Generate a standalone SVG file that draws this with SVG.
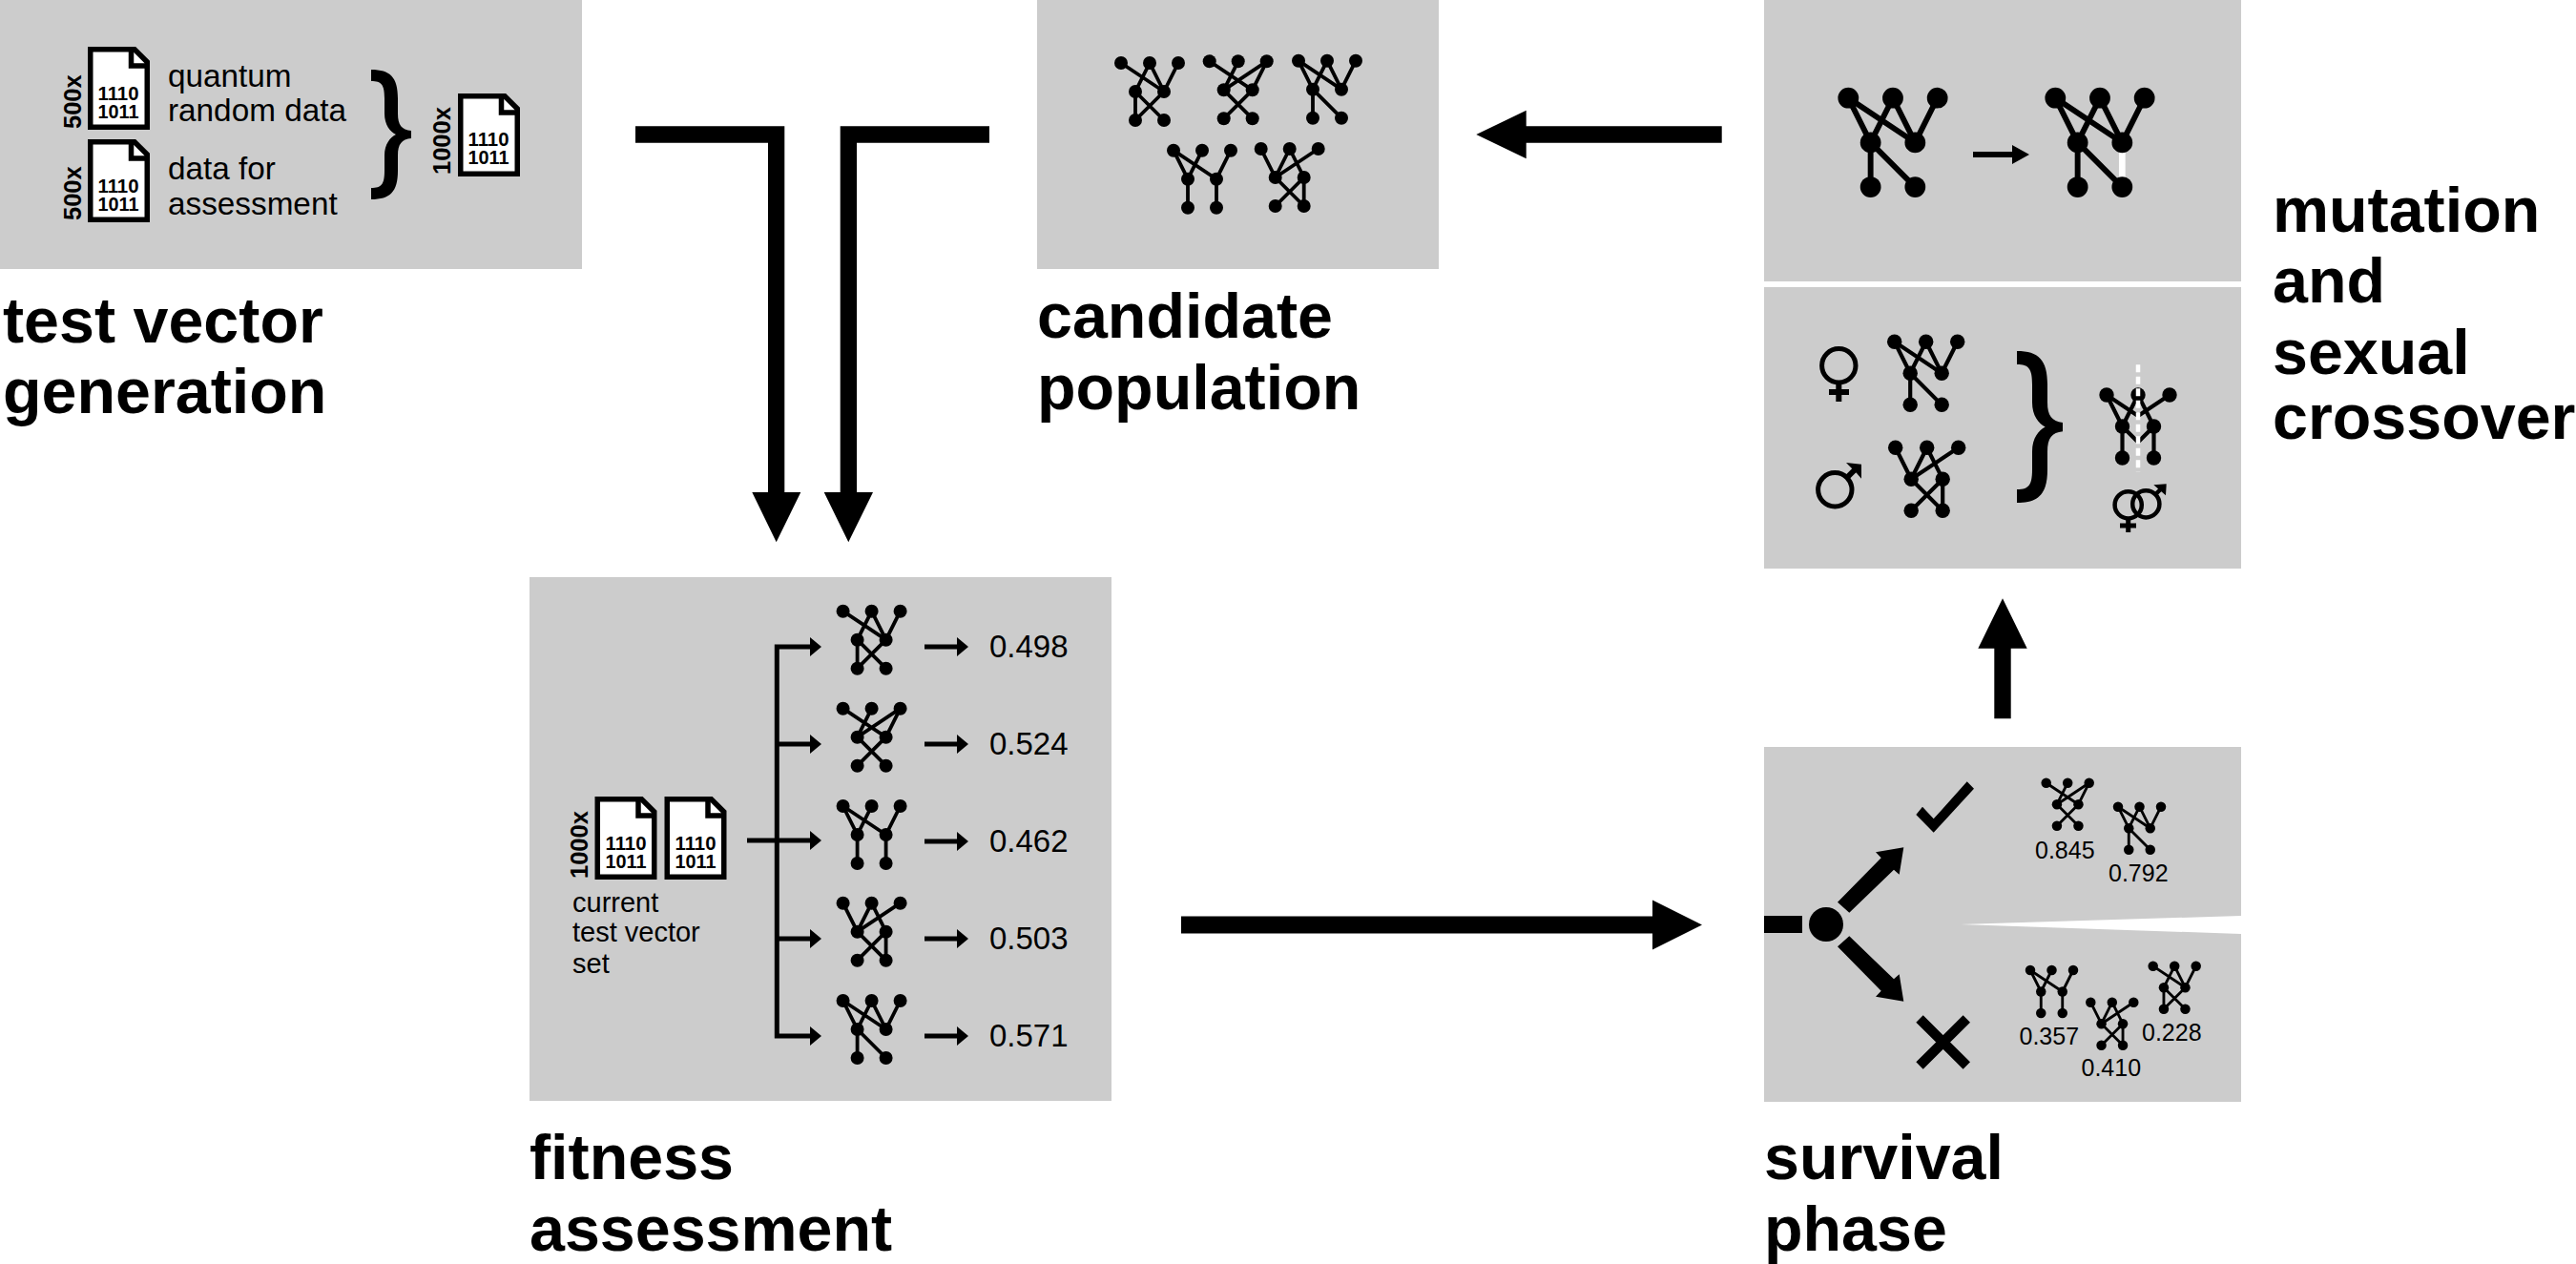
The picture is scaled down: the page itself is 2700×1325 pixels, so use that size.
<svg xmlns="http://www.w3.org/2000/svg" xmlns:xlink="http://www.w3.org/1999/xlink" width="2700" height="1325" viewBox="0 0 2700 1325">
<style>
text{font-family:"Liberation Sans",Arial,sans-serif;fill:#000}
.panel{fill:#ccc}
.title{font-size:66.4px;font-weight:bold}
.body{font-size:33.3px}
.cap{font-size:29px}
.fit{font-size:33px}
.sfit{font-size:25px}
.bits{font-size:20px;font-weight:bold;text-anchor:middle}
.count{font-size:25.5px;font-weight:bold}
.e{stroke:#000;stroke-width:3.8;fill:none}
.n{fill:#000}
.k{fill:#000;stroke:none}
.sym{fill:none;stroke:#000;stroke-width:5}
.ln{fill:none;stroke:#000;stroke-width:5}
</style>
<defs>
<g id="nodes" class="n"><circle cx="0" cy="0" r="7"/><circle cx="30" cy="0" r="7"/><circle cx="60" cy="0" r="7"/><circle cx="15" cy="30" r="7"/><circle cx="45" cy="30" r="7"/><circle cx="15" cy="60" r="7"/><circle cx="45" cy="60" r="7"/></g>
<g id="netA"><path class="e" d="M0,0L45,30M30,0L15,30M30,0L45,30M60,0L45,30M15,30L15,60M15,30L45,60M45,30L15,60"/><use href="#nodes"/></g>
<g id="netB"><path class="e" d="M0,0L45,30M30,0L15,30M60,0L15,30M60,0L45,30M15,30L45,60M45,30L15,60"/><use href="#nodes"/></g>
<g id="netC"><path class="e" d="M0,0L15,30M0,0L45,30M30,0L15,30M30,0L45,30M60,0L45,30M15,30L15,60M15,30L45,60"/><use href="#nodes"/></g>
<g id="netD"><path class="e" d="M0,0L15,30M0,0L45,30M30,0L15,30M60,0L45,30M15,30L15,60M45,30L45,60"/><use href="#nodes"/></g>
<g id="netE"><path class="e" d="M0,0L15,30M30,0L15,30M30,0L45,30M60,0L15,30M15,30L45,60M45,30L15,60M45,30L45,60"/><use href="#nodes"/></g>
<g id="netX"><path class="e" d="M0,0L15,30M0,0L30,20M30,0L15,30M30,0L45,30M60,0L30,20M15,30L15,60M15,30L30,45M45,30L45,60M45,30L30,45"/><use href="#nodes"/></g>
<g id="doc"><path d="M2.75,2.75H49L62.25,16V84.25H2.75Z" fill="#fff" stroke="#000" stroke-width="5.5"/><path d="M45.5,2V20H63" fill="none" stroke="#000" stroke-width="5.5"/></g>
<path id="brace" class="k" d="M0,0C20,0 28,8 28,30L28,46C28,58 32,63 42,64L42,72C32,73 28,78 28,90L28,106C28,128 20,136 0,136L0,124C11,124 14,120 14,106L14,90C14,78 20,71 26,68C20,65 14,58 14,46L14,30C14,16 11,12 0,12Z"/>
</defs>

<g id="test-vector-generation">
<rect class="panel" x="0" y="0" width="610" height="282"/>
<use href="#doc" x="92" y="49"/>
<text class="bits" x="124" y="105" textLength="43" lengthAdjust="spacingAndGlyphs">1110</text><text class="bits" x="124" y="124" textLength="43" lengthAdjust="spacingAndGlyphs">1011</text>
<use href="#doc" x="92" y="146"/>
<text class="bits" x="124" y="202" textLength="43" lengthAdjust="spacingAndGlyphs">1110</text><text class="bits" x="124" y="221" textLength="43" lengthAdjust="spacingAndGlyphs">1011</text>
<use href="#doc" x="480" y="98"/>
<text class="bits" x="512" y="153" textLength="43" lengthAdjust="spacingAndGlyphs">1110</text><text class="bits" x="512" y="172" textLength="43" lengthAdjust="spacingAndGlyphs">1011</text>
<text class="count" transform="translate(85,135) rotate(-90)">500x</text>
<text class="count" transform="translate(85,231) rotate(-90)">500x</text>
<text class="count" transform="translate(472,183) rotate(-90)">1000x</text>
<text class="body" x="176" y="91">quantum</text>
<text class="body" x="176" y="127">random data</text>
<text class="body" x="176" y="188">data for</text>
<text class="body" x="176" y="225">assessment</text>
<use href="#brace" transform="translate(389,73)"/>
<text class="title" x="3" y="359">test vector</text>
<text class="title" x="3" y="433">generation</text>
</g>

<g id="candidate-population">
<rect class="panel" x="1087" y="0" width="421" height="282"/>
<use href="#netA" transform="translate(1175,66)"/>
<use href="#netB" transform="translate(1267.7,64.3)"/>
<use href="#netC" transform="translate(1361,63.7)"/>
<use href="#netD" transform="translate(1230,157.7)"/>
<use href="#netE" transform="translate(1321.7,156)"/>
<text class="title" x="1087" y="354">candidate</text>
<text class="title" x="1087" y="429">population</text>
</g>

<g id="mutation">
<rect class="panel" x="1849" y="0" width="500" height="295"/>
<use href="#netC" transform="translate(1937.3,102.7) scale(1.556)"/>
<path d="M2224.3,158V187" stroke="#fff" stroke-width="6.7" fill="none"/>
<use href="#netC" transform="translate(2154.3,102.7) scale(1.556)"/>
<polygon class="k" points="2068,159 2109,159 2109,152 2127,162 2109,172 2109,165 2068,165"/>
</g>

<g id="sexual-crossover">
<rect class="panel" x="1849" y="301" width="500" height="295"/>
<use href="#netC" transform="translate(1985.7,358.3) scale(1.1)"/>
<use href="#netE" transform="translate(1986.7,469.3) scale(1.1)"/>
<circle class="sym" cx="1927.3" cy="383.3" r="17.7"/>
<path d="M1927.3,403V421M1917,411H1938" fill="none" stroke="#000" stroke-width="6"/>
<circle class="sym" cx="1923.3" cy="513.3" r="17.7"/>
<path d="M1936.5,500L1946,490.5" fill="none" stroke="#000" stroke-width="6"/>
<polygon class="k" points="1935,485 1951,486.7 1951,501.7 1946,496 1941,491"/>
<use href="#brace" transform="translate(2114,368) scale(1.143,1.17)"/>
<use href="#netX" transform="translate(2208,414) scale(1.1)"/>
<path d="M2241,382.3V495" fill="none" stroke="#fff" stroke-width="4.5" stroke-dasharray="8 4.5"/>
<circle cx="2230.7" cy="529.3" r="14.1" fill="none" stroke="#000" stroke-width="4.5"/>
<path d="M2230.7,545V558M2222,551H2239" fill="none" stroke="#000" stroke-width="5"/>
<circle cx="2249.3" cy="528.3" r="14.1" fill="none" stroke="#000" stroke-width="4.5"/>
<path d="M2259.5,518L2266,511.5" fill="none" stroke="#000" stroke-width="4.5"/>
<polygon class="k" points="2257.3,508.3 2270.7,507.3 2270,519.3"/>
<text class="title" x="2382" y="243">mutation</text>
<text class="title" x="2382" y="317">and</text>
<text class="title" x="2382" y="392">sexual</text>
<text class="title" x="2382" y="460">crossover</text>
</g>

<g id="fitness-assessment">
<rect class="panel" x="555" y="605" width="610" height="549"/>
<use href="#doc" x="623.5" y="835"/>
<text class="bits" x="656" y="891" textLength="43" lengthAdjust="spacingAndGlyphs">1110</text><text class="bits" x="656" y="910" textLength="43" lengthAdjust="spacingAndGlyphs">1011</text>
<use href="#doc" x="696.5" y="835"/>
<text class="bits" x="729" y="891" textLength="43" lengthAdjust="spacingAndGlyphs">1110</text><text class="bits" x="729" y="910" textLength="43" lengthAdjust="spacingAndGlyphs">1011</text>
<text class="count" transform="translate(616,921) rotate(-90)">1000x</text>
<text class="cap" x="600" y="956">current</text>
<text class="cap" x="600" y="987">test vector</text>
<text class="cap" x="600" y="1020">set</text>
<path class="ln" d="M783,881H850M852,678H814.3V1086H852M814.3,780H852M814.3,984H852"/>
<g class="k">
<polygon points="849,668 861,678 849,688"/><polygon points="849,770 861,780 849,790"/><polygon points="849,871 861,881 849,891"/><polygon points="849,974 861,984 849,994"/><polygon points="849,1076 861,1086 849,1096"/>
</g>
<use href="#netA" transform="translate(883.6,640.7)"/>
<use href="#netB" transform="translate(883.6,742.7)"/>
<use href="#netD" transform="translate(883.6,845)"/>
<use href="#netE" transform="translate(883.6,946.7)"/>
<use href="#netC" transform="translate(883.6,1049)"/>
<path class="ln" d="M969,678H1005M969,780H1005M969,882H1005M969,984H1005M969,1086H1005"/>
<g class="k">
<polygon points="1003,668 1015,678 1003,688"/><polygon points="1003,770 1015,780 1003,790"/><polygon points="1003,872 1015,882 1003,892"/><polygon points="1003,974 1015,984 1003,994"/><polygon points="1003,1076 1015,1086 1003,1096"/>
</g>
<text class="fit" x="1037" y="689">0.498</text>
<text class="fit" x="1037" y="791">0.524</text>
<text class="fit" x="1037" y="893">0.462</text>
<text class="fit" x="1037" y="995">0.503</text>
<text class="fit" x="1037" y="1097">0.571</text>
<text class="title" x="555" y="1236">fitness</text>
<text class="title" x="555" y="1311">assessment</text>
</g>

<g id="survival-phase">
<rect class="panel" x="1849" y="783" width="500" height="372"/>
<polygon points="2055,969 2349,960 2349,979" fill="#fff"/>
<polygon class="k" points="2008.3,854 2015,845.7 2026.7,858.3 2061.7,819.3 2069,826.7 2026.7,872.7"/>
<path d="M2012,1068L2061.3,1117M2061.3,1068L2012,1117" fill="none" stroke="#000" stroke-width="10.5"/>
<use href="#netB" transform="translate(2144.7,820.7) scale(0.75)"/>
<use href="#netC" transform="translate(2220,845.7) scale(0.75)"/>
<use href="#netD" transform="translate(2128,1017) scale(0.75)"/>
<use href="#netE" transform="translate(2191.3,1050.7) scale(0.75)"/>
<use href="#netA" transform="translate(2256.7,1012.7) scale(0.75)"/>
<text class="sfit" x="2133" y="900">0.845</text>
<text class="sfit" x="2210" y="924">0.792</text>
<text class="sfit" x="2116.5" y="1095">0.357</text>
<text class="sfit" x="2181.5" y="1128">0.410</text>
<text class="sfit" x="2245" y="1091">0.228</text>
<text class="title" x="1849" y="1236">survival</text>
<text class="title" x="1849" y="1311">phase</text>
</g>

<g id="connectors">
<polygon class="k" points="666,132.3 822.3,132.3 822.3,516 839.3,516 813.7,568.3 788.3,516 805,516 805,149.7 666,149.7"/>
<polygon class="k" points="1037,132.3 880.7,132.3 880.7,516 863.7,516 889.3,568.3 915,516 898,516 898,149.7 1037,149.7"/>
<polygon class="k" points="1804.7,132.3 1599.7,132.3 1599.7,115.7 1547.3,141 1599.7,166.3 1599.7,149.7 1804.7,149.7"/>
<polygon class="k" points="2090.3,753.3 2090.3,679.7 2073.3,679.7 2099,627.3 2124.7,679.7 2107.7,679.7 2107.7,753.3"/>
<polygon class="k" points="1238,960.5 1732,960.5 1732,943.5 1784,969.5 1732,995.5 1732,978.5 1238,978.5"/>
<rect class="k" x="1849" y="960" width="40" height="18"/>
<circle class="k" cx="1914" cy="969" r="18"/>
<polygon class="k" points="1926,945.7 1971.7,899.3 1966,893.3 1995.3,888.3 1990.7,916.7 1985,911.7 1938.3,956.7"/>
<polygon class="k" points="1926,992.3 1971.7,1038.7 1966,1044.7 1995.3,1049.7 1990.7,1021.3 1985,1026.3 1938.3,981.3"/>
</g>
</svg>
